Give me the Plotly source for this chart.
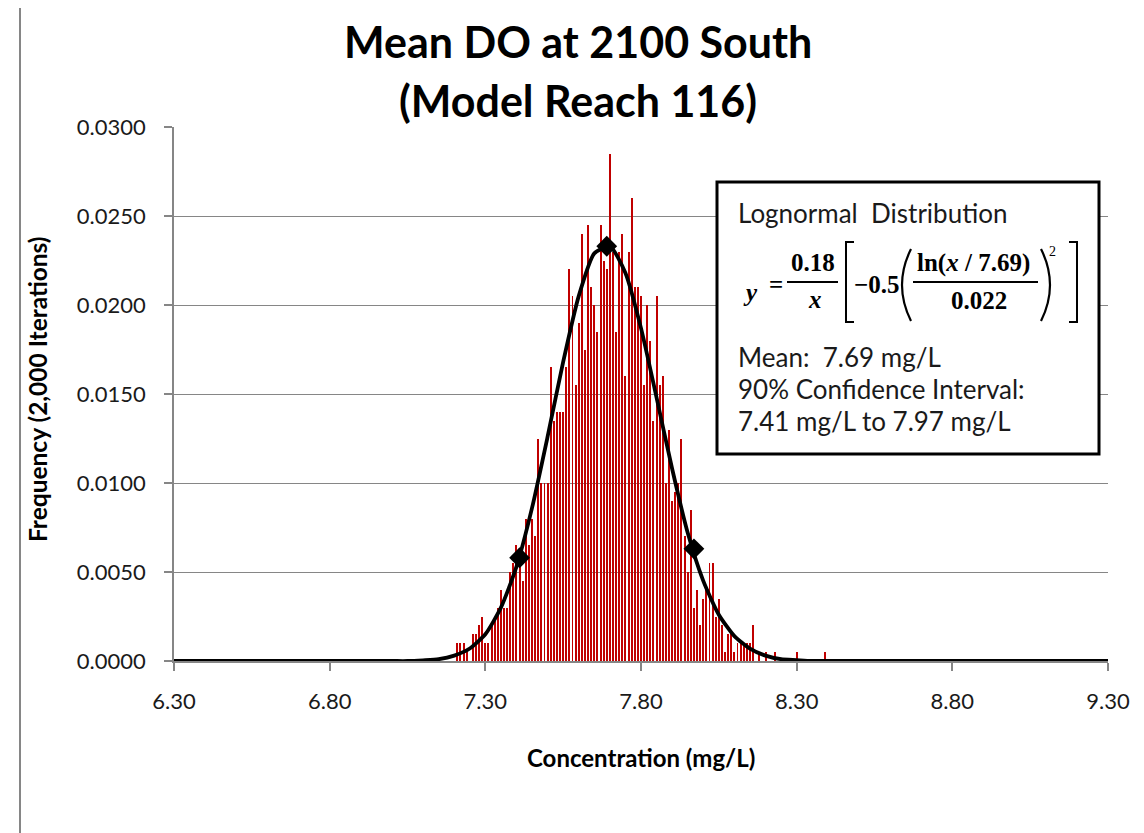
import plotly.graph_objects as go

# ---------------- data ----------------
bin_centers = [7.21, 7.22, 7.23, 7.24, 7.26, 7.27, 7.28, 7.29, 7.30, 7.31,
               7.32, 7.33, 7.34, 7.35, 7.36, 7.37, 7.38, 7.39, 7.40, 7.41,
               7.42, 7.43, 7.44, 7.45, 7.46, 7.47, 7.48, 7.49, 7.50, 7.51,
               7.52, 7.53, 7.54, 7.55, 7.56, 7.57, 7.58, 7.59, 7.60, 7.61,
               7.62, 7.63, 7.64, 7.65, 7.66, 7.67, 7.68, 7.69, 7.70, 7.71,
               7.72, 7.73, 7.74, 7.75, 7.76, 7.77, 7.78, 7.79, 7.80, 7.81,
               7.82, 7.83, 7.84, 7.85, 7.86, 7.87, 7.88, 7.89, 7.90, 7.91,
               7.92, 7.93, 7.94, 7.95, 7.96, 7.97, 7.98, 7.99, 8.00, 8.01,
               8.02, 8.03, 8.04, 8.05, 8.06, 8.07, 8.08, 8.09, 8.10, 8.11,
               8.12, 8.13, 8.14, 8.15, 8.16, 8.18, 8.20, 8.23, 8.30, 8.39]
frequency = [0.0010, 0.0010, 0.0010, 0.0005, 0.0015, 0.0015, 0.0020, 0.0025, 0.0010, 0.0010,
             0.0020, 0.0025, 0.0030, 0.0040, 0.0030, 0.0030, 0.0050, 0.0055, 0.0065, 0.0060,
             0.0045, 0.0080, 0.0065, 0.0080, 0.0070, 0.0125, 0.0100, 0.0100, 0.0100, 0.0165,
             0.0135, 0.0140, 0.0140, 0.0140, 0.0165, 0.0220, 0.0205, 0.0155, 0.0190, 0.0240,
             0.0175, 0.0245, 0.0210, 0.0200, 0.0185, 0.0245, 0.0225, 0.0220, 0.0285, 0.0230,
             0.0185, 0.0230, 0.0240, 0.0160, 0.0230, 0.0260, 0.0210, 0.0210, 0.0205, 0.0155,
             0.0200, 0.0180, 0.0135, 0.0205, 0.0155, 0.0160, 0.0100, 0.0130, 0.0090, 0.0095,
             0.0100, 0.0125, 0.0070, 0.0050, 0.0085, 0.0030, 0.0040, 0.0020, 0.0035, 0.0040,
             0.0055, 0.0055, 0.0025, 0.0035, 0.0020, 0.0005, 0.0015, 0.0015, 0.0005, 0.0010,
             0.0010, 0.0010, 0.0010, 0.0010, 0.0020, 0.0005, 0.0005, 0.0005, 0.0005, 0.0005]

curve_x = [6.30, 7.00, 7.05, 7.10, 7.15, 7.20, 7.25, 7.30, 7.35, 7.40, 7.45, 7.50,
           7.55, 7.60, 7.65, 7.70, 7.75, 7.80, 7.85, 7.90, 7.95, 8.00, 8.05,
           8.10, 8.15, 8.20, 8.25, 8.30, 8.35, 9.30]
curve_y = [0.0, 0.0, 0.0, 0.00004, 0.0001, 0.0003, 0.0007, 0.0015, 0.0030, 0.0053, 0.0086, 0.0126,
           0.0168, 0.0205, 0.0229, 0.0233, 0.0218, 0.0187, 0.0148, 0.0108, 0.0072, 0.0045, 0.0026,
           0.0014, 0.0007, 0.0003, 0.0001, 0.00005, 0.0, 0.0]

marker_x = [7.41, 7.69, 7.97]
marker_y = [0.0058, 0.0233, 0.0063]

x_ticks = [6.30, 6.80, 7.30, 7.80, 8.30, 8.80, 9.30]
y_ticks = [0.0, 0.005, 0.010, 0.015, 0.020, 0.025, 0.030]

title_lines = ["Mean DO at 2100 South", "(Model Reach 116)"]
x_title = "Concentration (mg/L)"
y_title = "Frequency (2,000 Iterations)"
box_lines = ["Mean:  7.69 mg/L", "90% Confidence Interval:", "7.41 mg/L to 7.97 mg/L"]

# ---------------- geometry helpers (page pixels -> paper) ----------------
OFF = 8                       # page body margin
W_FIG, H_FIG = 1144 - OFF, 833 - OFF
L, R, T, B = 174, 1108, 127, 661   # plot area in page pixels


def px(x):
    return (x - L) / (R - L)


def py(y):
    return (B - y) / (B - T)


FONT = "Lato"
SERIF = "Liberation Serif"
GRID = "#868686"
TXT = "#1a1a1a"

fig = go.Figure()
fig.add_trace(go.Bar(x=bin_centers, y=frequency, width=0.0031,
                     marker=dict(color="#C00000", line=dict(width=0)),
                     showlegend=False, hoverinfo="x+y"))
fig.add_trace(go.Scatter(x=curve_x, y=curve_y, mode="lines",
                         line=dict(color="black", width=3.8, shape="spline", smoothing=0.6),
                         showlegend=False))
fig.add_trace(go.Scatter(x=marker_x, y=marker_y, mode="markers",
                         marker=dict(symbol="diamond", color="black", size=16),
                         showlegend=False))

annotations = []
shapes = []

# title (two lines, centered on the chart area)
for txt, yc in zip(title_lines, [42, 100]):
    annotations.append(dict(text="<b>%s</b>" % txt, x=px(578), y=py(yc), xref="paper", yref="paper",
                            xanchor="center", yanchor="middle", showarrow=False,
                            font=dict(family=FONT, size=43, color="black")))

# axis titles
annotations.append(dict(text="<b>%s</b>" % x_title, x=px(641), y=py(757), xref="paper", yref="paper",
                        xanchor="center", yanchor="middle", showarrow=False,
                        font=dict(family=FONT, size=24, color="black")))
annotations.append(dict(text="<b>%s</b>" % y_title, x=px(37), y=py(389), xref="paper", yref="paper",
                        xanchor="center", yanchor="middle", showarrow=False, textangle=-90,
                        font=dict(family=FONT, size=24.5, color="black")))

# text box
shapes.append(dict(type="rect", xref="paper", yref="paper", x0=px(717), x1=px(1099),
                   y0=py(454), y1=py(182), line=dict(color="black", width=3), fillcolor="white",
                   layer="above"))
annotations.append(dict(text="Lognormal  Distribution", x=px(736), y=py(213), xref="paper", yref="paper",
                        xanchor="left", yanchor="middle", showarrow=False,
                        font=dict(family=FONT, size=26, color=TXT)))
for txt, yc in zip(box_lines, [357, 389, 421]):
    annotations.append(dict(text=txt, x=px(736), y=py(yc), xref="paper", yref="paper",
                            xanchor="left", yanchor="middle", showarrow=False,
                            font=dict(family=FONT, size=26, color=TXT)))

# formula pieces
def ftext(t, xc, yc, size=25, anchor="center"):
    annotations.append(dict(text=t, x=px(xc), y=py(yc), xref="paper", yref="paper",
                            xanchor=anchor, yanchor="middle", showarrow=False,
                            font=dict(family=SERIF, size=size, color="black")))

ftext("<b><i>y</i></b>", 750, 292)
ftext("<b>=</b>", 776, 284)
ftext("<b>0.18</b>", 813, 263)
ftext("<b><i>x</i></b>", 815, 299)
ftext("<b>\u22120.5</b>", 877, 284)
ftext("<b>ln(<i>x</i> / 7.69)</b>", 973, 263)
ftext("<b>0.022</b>", 979, 300)
ftext("2", 1052, 251, size=14)

def pline(x0, y0, x1, y1, w=1.8):
    shapes.append(dict(type="line", xref="paper", yref="paper", x0=px(x0), y0=py(y0),
                       x1=px(x1), y1=py(y1), line=dict(color="black", width=w), layer="above"))

pline(787, 282, 838, 282)
pline(913, 282, 1038, 282)

def ppath(points, w=2):
    d = "M " + " L ".join("%f,%f" % (px(a), py(b)) for a, b in points)
    shapes.append(dict(type="path", xref="paper", yref="paper", path=d,
                       line=dict(color="black", width=w), layer="above"))

ppath([(854, 242), (846, 242), (846, 322), (854, 322)])
ppath([(1069, 242), (1077, 242), (1077, 322), (1069, 322)])

def pcurve(x_end, x_ctrl, y0, y1, w=2.2):
    d = "M %f,%f Q %f,%f %f,%f" % (px(x_end), py(y0), px(x_ctrl), py((y0 + y1) / 2),
                                   px(x_end), py(y1))
    shapes.append(dict(type="path", xref="paper", yref="paper", path=d,
                       line=dict(color="black", width=w), layer="above"))

pcurve(911, 893, 249, 321)
pcurve(1041, 1059, 249, 321)

# chart-area border on the left
shapes.append(dict(type="line", xref="paper", yref="paper", x0=px(20), x1=px(20),
                   y0=py(0), y1=py(840), line=dict(color=GRID, width=2), layer="above"))

fig.update_layout(
    width=W_FIG, height=H_FIG,
    margin=dict(l=L - OFF, r=W_FIG - (R - OFF), t=T - OFF, b=H_FIG - (B - OFF), pad=0),
    paper_bgcolor="white", plot_bgcolor="white",
    bargap=0,
    xaxis=dict(range=[6.30, 9.30], tickvals=x_ticks, tickformat=".2f",
               showgrid=False, zeroline=False, showline=True, linecolor=GRID, linewidth=1.5,
               ticks="outside", ticklen=8, tickcolor=GRID, tickwidth=1.5,
               ticklabelstandoff=12,
               tickfont=dict(family=FONT, size=22, color=TXT)),
    yaxis=dict(range=[0, 0.030], tickvals=y_ticks, tickformat=".4f",
               showgrid=True, gridcolor=GRID, gridwidth=1, zeroline=False,
               showline=True, linecolor=GRID, linewidth=1.5,
               ticks="outside", ticklen=8, tickcolor=GRID, tickwidth=1.5,
               ticklabelstandoff=14,
               tickfont=dict(family=FONT, size=22, color=TXT)),
    annotations=annotations,
    shapes=shapes,
)

fig.write_html("out.html")
